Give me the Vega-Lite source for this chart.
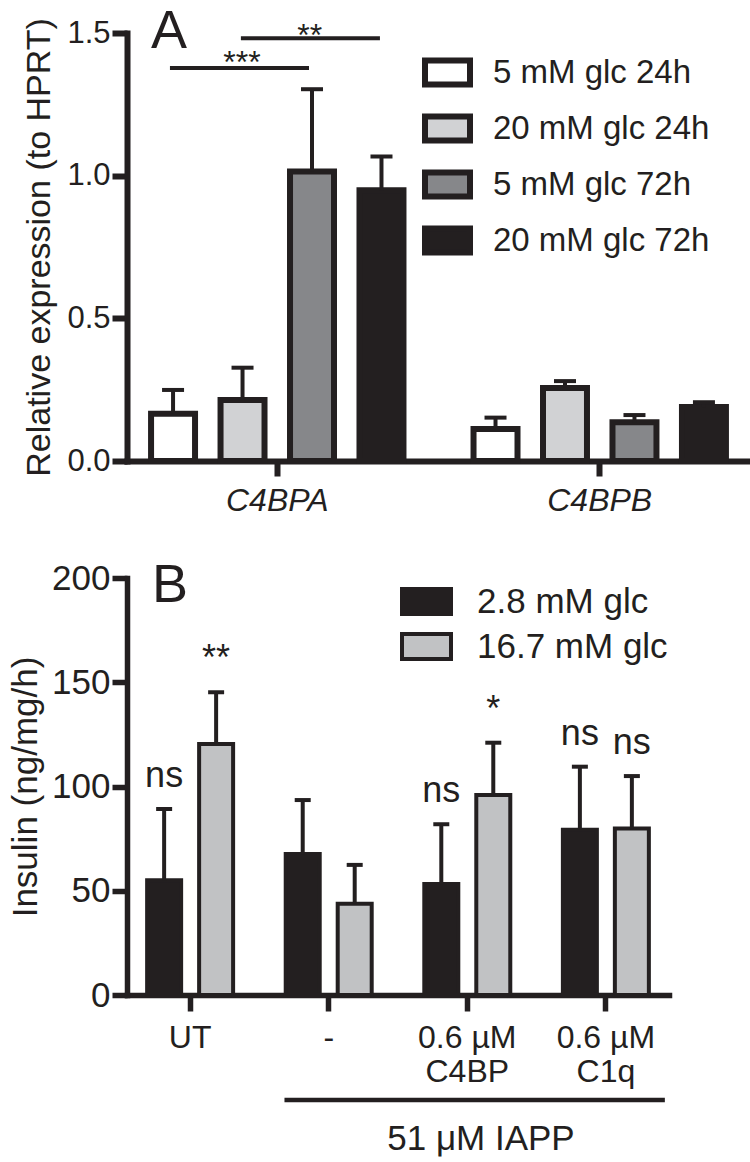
{
  "$schema": "https://vega.github.io/schema/vega-lite/v6.json",
  "background": "white",
  "padding": {"left": 8, "top": 5, "right": 0, "bottom": 0},
  "bounds": "flush",
  "spacing": 117,
  "config": {
    "font": "Liberation Sans",
    "view": {"stroke": null},
    "axis": {
      "grid": false,
      "domainColor": "#231f20",
      "tickColor": "#231f20",
      "labelColor": "#231f20",
      "titleColor": "#231f20",
      "titleFontWeight": "normal",
      "labelFont": "Liberation Sans",
      "titleFont": "Liberation Sans",
      "domainCap": "square",
      "tickCap": "butt"
    },
    "legend": {
      "labelFont": "Liberation Sans",
      "labelColor": "#231f20",
      "labelLimit": 400,
      "padding": 0
    }
  },
  "datasets": {
    "exprA": [
      {"gene": "C4BPA", "condition": "5 mM glc 24h", "mean": 0.166, "upper": 0.249},
      {"gene": "C4BPA", "condition": "20 mM glc 24h", "mean": 0.214, "upper": 0.327},
      {"gene": "C4BPA", "condition": "5 mM glc 72h", "mean": 1.015, "upper": 1.303},
      {"gene": "C4BPA", "condition": "20 mM glc 72h", "mean": 0.949, "upper": 1.067},
      {"gene": "C4BPB", "condition": "5 mM glc 24h", "mean": 0.112, "upper": 0.152},
      {"gene": "C4BPB", "condition": "20 mM glc 24h", "mean": 0.256, "upper": 0.280},
      {"gene": "C4BPB", "condition": "5 mM glc 72h", "mean": 0.136, "upper": 0.161},
      {"gene": "C4BPB", "condition": "20 mM glc 72h", "mean": 0.189, "upper": 0.206}
    ],
    "insB": [
      {"treatment": "UT", "glucose": "2.8 mM glc", "mean": 55.0, "upper": 89.2, "sig": "ns"},
      {"treatment": "UT", "glucose": "16.7 mM glc", "mean": 120.4, "upper": 145.2, "sig": "**"},
      {"treatment": "-", "glucose": "2.8 mM glc", "mean": 67.6, "upper": 93.5, "sig": ""},
      {"treatment": "-", "glucose": "16.7 mM glc", "mean": 43.8, "upper": 62.4, "sig": ""},
      {"treatment": "0.6 µM|C4BP", "glucose": "2.8 mM glc", "mean": 53.2, "upper": 81.9, "sig": "ns"},
      {"treatment": "0.6 µM|C4BP", "glucose": "16.7 mM glc", "mean": 95.9, "upper": 121.0, "sig": "*"},
      {"treatment": "0.6 µM|C1q", "glucose": "2.8 mM glc", "mean": 79.3, "upper": 109.5, "sig": "ns"},
      {"treatment": "0.6 µM|C1q", "glucose": "16.7 mM glc", "mean": 79.8, "upper": 105.0, "sig": "ns"}
    ]
  },
  "vconcat": [
    {
      "width": 623,
      "height": 428,
      "layer": [
        {
          "data": {"name": "exprA"},
          "mark": {"type": "bar", "stroke": "#231f20", "strokeWidth": 6, "strokeJoin": "miter"},
          "encoding": {
            "x": {
              "field": "gene", "type": "nominal",
              "scale": {"domain": ["C4BPA", "C4BPB"], "paddingInner": 0.2, "paddingOuter": 0.066},
              "axis": {"title": null, "labelFontSize": 32, "labelFontStyle": "italic", "labelAngle": 0, "domainWidth": 6, "tickWidth": 6, "tickSize": 15, "labelPadding": 9}
            },
            "xOffset": {
              "field": "condition", "type": "nominal",
              "scale": {"domain": ["5 mM glc 24h", "20 mM glc 24h", "5 mM glc 72h", "20 mM glc 72h"], "paddingInner": 0.367, "paddingOuter": 0.04}
            },
            "y": {
              "field": "mean", "type": "quantitative",
              "scale": {"domain": [0, 1.5], "nice": false},
              "axis": {"title": "Relative expression (to HPRT)", "titleFontSize": 34, "labelFontSize": 31, "values": [0, 0.5, 1, 1.5], "format": ".1f", "domainWidth": 6, "tickWidth": 6, "tickSize": 15, "labelPadding": 2, "titlePadding": 10}
            },
            "color": {
              "field": "condition", "type": "nominal",
              "scale": {"domain": ["5 mM glc 24h", "20 mM glc 24h", "5 mM glc 72h", "20 mM glc 72h"], "range": ["#ffffff", "#d1d2d4", "#86878a", "#231f20"]},
              "legend": {
                "orient": "none", "legendX": 295, "legendY": 14, "title": null,
                "symbolType": "M-1,-0.533H1V0.533H-1Z", "symbolSize": 2025,
                "symbolStrokeWidth": 6, "symbolStrokeColor": "#231f20",
                "labelFontSize": 33, "labelOffset": 20, "rowPadding": 6
              }
            }
          }
        },
        {
          "data": {"name": "exprA"},
          "mark": {"type": "rule", "strokeWidth": 4, "color": "#231f20"},
          "encoding": {
            "x": {"field": "gene", "type": "nominal"},
            "xOffset": {"field": "condition", "type": "nominal"},
            "y": {"field": "mean", "type": "quantitative"},
            "y2": {"field": "upper"}
          }
        },
        {
          "data": {"name": "exprA"},
          "mark": {"type": "tick", "size": 22, "thickness": 4, "color": "#231f20", "opacity": 1},
          "encoding": {
            "x": {"field": "gene", "type": "nominal"},
            "xOffset": {"field": "condition", "type": "nominal"},
            "y": {"field": "upper", "type": "quantitative"}
          }
        },
        {
          "data": {"values": [{"label": "***", "level": 1.377}]},
          "mark": {"type": "rule", "strokeWidth": 4, "color": "#231f20"},
          "encoding": {
            "x": {"datum": "C4BPA", "bandPosition": 0.084},
            "x2": {"datum": "C4BPA", "bandPosition": 0.623},
            "y": {"field": "level", "type": "quantitative"}
          }
        },
        {
          "data": {"values": [{"label": "**", "level": 1.482}]},
          "mark": {"type": "rule", "strokeWidth": 4, "color": "#231f20"},
          "encoding": {
            "x": {"datum": "C4BPA", "bandPosition": 0.359},
            "x2": {"datum": "C4BPA", "bandPosition": 0.898},
            "y": {"field": "level", "type": "quantitative"}
          }
        },
        {
          "data": {"values": [{"label": "***", "level": 1.36}]},
          "mark": {"type": "text", "fontSize": 32, "color": "#231f20", "align": "center", "baseline": "alphabetic"},
          "encoding": {
            "x": {"datum": "C4BPA", "bandPosition": 0.363},
            "y": {"field": "level", "type": "quantitative"},
            "text": {"field": "label"}
          }
        },
        {
          "data": {"values": [{"label": "**", "level": 1.455}]},
          "mark": {"type": "text", "fontSize": 32, "color": "#231f20", "align": "center", "baseline": "alphabetic"},
          "encoding": {
            "x": {"datum": "C4BPA", "bandPosition": 0.626},
            "y": {"field": "level", "type": "quantitative"},
            "text": {"field": "label"}
          }
        },
        {
          "data": {"values": [{"panel": "A", "level": 1.447}]},
          "mark": {"type": "text", "fontSize": 54, "color": "#231f20", "align": "center", "baseline": "alphabetic"},
          "encoding": {
            "x": {"datum": "C4BPA", "bandPosition": 0.08},
            "y": {"field": "level", "type": "quantitative"},
            "text": {"field": "panel"}
          }
        }
      ]
    },
    {
      "width": 542,
      "height": 417,
      "layer": [
        {
          "data": {"name": "insB"},
          "mark": {"type": "bar", "stroke": "#231f20", "strokeWidth": 4, "strokeJoin": "miter"},
          "encoding": {
            "x": {
              "field": "treatment", "type": "nominal",
              "scale": {"domain": ["UT", "-", "0.6 µM|C4BP", "0.6 µM|C1q"], "paddingInner": 0.24, "paddingOuter": 0.0755},
              "axis": {"title": null, "labelFontSize": 32, "labelAngle": 0, "labelExpr": "split(datum.label, '|')", "labelLineHeight": 34, "domainWidth": 5.5, "tickWidth": 5.5, "tickSize": 16, "labelPadding": 11}
            },
            "xOffset": {
              "field": "glucose", "type": "nominal",
              "scale": {"domain": ["2.8 mM glc", "16.7 mM glc"], "paddingInner": 0.346, "paddingOuter": 0.186}
            },
            "y": {
              "field": "mean", "type": "quantitative",
              "scale": {"domain": [0, 200], "nice": false},
              "axis": {"title": "Insulin (ng/mg/h)", "titleFontSize": 35, "labelFontSize": 35, "values": [0, 50, 100, 150, 200], "domainWidth": 5.5, "tickWidth": 5.5, "tickSize": 15, "labelPadding": 2, "titlePadding": 8}
            },
            "color": {
              "field": "glucose", "type": "nominal",
              "scale": {"domain": ["2.8 mM glc", "16.7 mM glc"], "range": ["#231f20", "#c1c2c4"]},
              "legend": {
                "orient": "none", "legendX": 280, "legendY": 4, "title": null,
                "symbolType": "M-1.4,-0.714H1.4V0.714H-1.4Z", "symbolSize": 1225,
                "symbolStrokeWidth": 4, "symbolStrokeColor": "#231f20",
                "labelFontSize": 35, "labelOffset": 31, "rowPadding": 4
              }
            }
          }
        },
        {
          "data": {"name": "insB"},
          "mark": {"type": "rule", "strokeWidth": 4, "color": "#231f20"},
          "encoding": {
            "x": {"field": "treatment", "type": "nominal"},
            "xOffset": {"field": "glucose", "type": "nominal"},
            "y": {"field": "mean", "type": "quantitative"},
            "y2": {"field": "upper"}
          }
        },
        {
          "data": {"name": "insB"},
          "mark": {"type": "tick", "size": 16, "thickness": 4, "color": "#231f20", "opacity": 1},
          "encoding": {
            "x": {"field": "treatment", "type": "nominal"},
            "xOffset": {"field": "glucose", "type": "nominal"},
            "y": {"field": "upper", "type": "quantitative"}
          }
        },
        {
          "data": {"name": "insB"},
          "mark": {"type": "text", "fontSize": 36, "color": "#231f20", "align": "center", "baseline": "alphabetic", "dy": -22},
          "encoding": {
            "x": {"field": "treatment", "type": "nominal"},
            "xOffset": {"field": "glucose", "type": "nominal"},
            "y": {"field": "upper", "type": "quantitative"},
            "text": {"field": "sig"}
          }
        },
        {
          "data": {"values": [{"label": "51 μM IAPP", "level": -50.4}]},
          "mark": {"type": "rule", "strokeWidth": 4.5, "color": "#231f20"},
          "encoding": {
            "x": {"datum": "-", "bandPosition": 0.08},
            "x2": {"datum": "0.6 µM|C1q", "bandPosition": 1.06},
            "y": {"field": "level", "type": "quantitative"}
          }
        },
        {
          "data": {"values": [{"label": "51 μM IAPP", "level": -74.3}]},
          "mark": {"type": "text", "fontSize": 35, "color": "#231f20", "align": "center", "baseline": "alphabetic"},
          "encoding": {
            "x": {"datum": "0.6 µM|C4BP", "bandPosition": 0.63},
            "y": {"field": "level", "type": "quantitative"},
            "text": {"field": "label"}
          }
        },
        {
          "data": {"values": [{"panel": "B", "level": 188.5}]},
          "mark": {"type": "text", "fontSize": 54, "color": "#231f20", "align": "center", "baseline": "alphabetic"},
          "encoding": {
            "x": {"datum": "UT", "bandPosition": 0.31},
            "y": {"field": "level", "type": "quantitative"},
            "text": {"field": "panel"}
          }
        }
      ]
    }
  ],
  "resolve": {"scale": {"color": "independent", "x": "independent", "xOffset": "independent", "y": "independent"}, "legend": {"color": "independent"}}
}
